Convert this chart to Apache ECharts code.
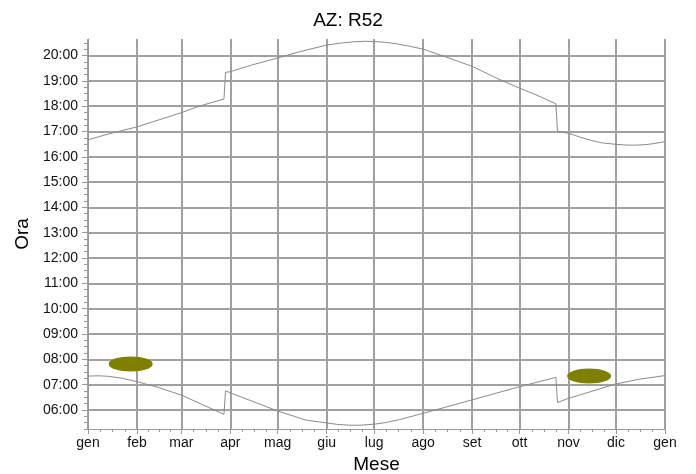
<!DOCTYPE html>
<html><head><meta charset="utf-8">
<script src="https://cdn.jsdelivr.net/npm/echarts@6/dist/echarts.min.js"></script>
<style>html,body{margin:0;padding:0;background:#fff}#c{width:696px;height:474px}</style>
</head><body><div id="c"></div>
<script>
// Month labels (Italian)
const monthNames = ['gen','feb','mar','apr','mag','giu','lug','ago','set','ott','nov','dic'];
// Hour tick labels
const hourTicks = [6,7,8,9,10,11,12,13,14,15,16,17,18,19,20];

// Sunset (upper curve), local time in hours
const sunsetDates = ['2023-01-01','2023-01-14','2023-02-01','2023-02-15','2023-03-01','2023-03-13','2023-03-28','2023-03-29','2023-04-01','2023-04-15','2023-05-01','2023-05-15','2023-06-01','2023-06-10','2023-06-18','2023-06-25','2023-07-01','2023-07-08','2023-07-15','2023-07-23','2023-08-01','2023-08-15','2023-09-01','2023-09-18','2023-10-01','2023-10-12','2023-10-24','2023-10-25','2023-11-01','2023-11-08','2023-11-15','2023-11-22','2023-12-01','2023-12-08','2023-12-14','2023-12-20','2023-12-25','2024-01-01'];
const sunsetHours = [16.67,16.90,17.18,17.46,17.74,18.01,18.28,19.33,19.36,19.63,19.90,20.15,20.41,20.49,20.54,20.56,20.55,20.52,20.46,20.37,20.25,19.95,19.57,19.06,18.71,18.43,18.09,17.00,16.93,16.78,16.65,16.55,16.49,16.46,16.46,16.48,16.52,16.60];

// Sunrise (lower curve), local time in hours
const sunriseDates = ['2023-01-01','2023-01-08','2023-01-14','2023-01-22','2023-02-01','2023-02-14','2023-03-01','2023-03-28','2023-03-29','2023-04-01','2023-05-01','2023-05-19','2023-06-01','2023-06-08','2023-06-15','2023-06-22','2023-07-01','2023-07-08','2023-07-17','2023-08-01','2023-09-01','2023-10-01','2023-10-24','2023-10-25','2023-11-01','2023-12-01','2023-12-16','2024-01-01'];
const sunriseHours = [7.34,7.35,7.33,7.26,7.12,6.90,6.59,5.83,6.76,6.68,5.96,5.60,5.49,5.43,5.40,5.40,5.44,5.50,5.62,5.87,6.40,6.92,7.29,6.30,6.46,7.03,7.22,7.36];

// Olive markers (periods of interest)
const markDates = ['2023-01-28','2023-11-14'];
const markHours = [7.82, 7.34];

const quarterTicks = [];
for (let q = 5.25; q <= 20.65; q += 0.25) quarterTicks.push(Math.round(q * 100) / 100);

const pad = n => (n < 10 ? '0' : '') + n;
const gridColor = '#a0a0a0';
const font = 'Liberation Sans, Arial, sans-serif';

const chart = echarts.init(document.getElementById('c'), null, {renderer: 'canvas'});
chart.setOption({
  animation: false,
  backgroundColor: '#fff',
  title: {
    text: 'AZ: R52', left: 'center', top: 6,
    textStyle: {fontFamily: font, fontSize: 19, fontWeight: 'normal', color: '#000'}
  },
  grid: {left: 88, right: 31, top: 39, bottom: 45, containLabel: false, outerBoundsMode: 'none'},
  xAxis: {
    type: 'time',
    min: '2023-01-01', max: '2024-01-01',
    splitNumber: 12,
    minInterval: 28 * 864e5, maxInterval: 31 * 864e5,
    name: 'Mese', nameLocation: 'middle', nameGap: 26,
    nameTextStyle: {fontFamily: font, fontSize: 19, color: '#000'},
    axisLine: {show: true, lineStyle: {color: '#999', width: 1}},
    axisTick: {show: true, length: 5, lineStyle: {color: '#999'}},
    minorTick: {show: true, splitNumber: 4, length: 3, lineStyle: {color: '#999'}},
    axisLabel: {
      showMinLabel: true, showMaxLabel: true, margin: 7,
      fontFamily: font, fontSize: 14, color: '#111',
      formatter: v => monthNames[new Date(v).getMonth()]
    },
    splitLine: {show: true, lineStyle: {color: gridColor, width: 2}}
  },
  yAxis: [{
    type: 'value', min: 5.25, max: 20.65,
    name: 'Ora', nameLocation: 'middle', nameGap: 56, nameRotate: 90,
    nameTextStyle: {fontFamily: font, fontSize: 19, color: '#000'},
    axisLine: {show: true, lineStyle: {color: '#999', width: 1}},
    axisTick: {show: true, customValues: hourTicks, length: 6, lineStyle: {color: '#999'}},
    axisLabel: {
      customValues: hourTicks, margin: 10,
      fontFamily: font, fontSize: 14, color: '#111',
      formatter: v => pad(Math.round(v)) + ':00'
    },
    splitLine: {show: true, lineStyle: {color: gridColor, width: 2}}
  }, {
    type: 'value', min: 5.25, max: 20.65, position: 'left', offset: 0,
    axisLine: {show: false},
    axisTick: {show: true, customValues: quarterTicks, length: 4, lineStyle: {color: '#999'}},
    axisLabel: {show: false},
    splitLine: {show: false}
  }],
  series: [{
    type: 'line', name: 'tramonto', yAxisIndex: 0, showSymbol: false, symbol: 'none',
    lineStyle: {color: '#8a8a8a', width: 1},
    data: sunsetDates.map((d, i) => [d, sunsetHours[i]])
  }, {
    type: 'line', name: 'alba', yAxisIndex: 0, showSymbol: false, symbol: 'none',
    lineStyle: {color: '#8a8a8a', width: 1},
    data: sunriseDates.map((d, i) => [d, sunriseHours[i]])
  }, {
    type: 'scatter', name: 'periodi', yAxisIndex: 0,
    symbol: 'circle', symbolSize: [44, 15],
    itemStyle: {color: '#808000', opacity: 1},
    data: markDates.map((d, i) => [d, markHours[i]])
  }]
});
</script></body></html>
